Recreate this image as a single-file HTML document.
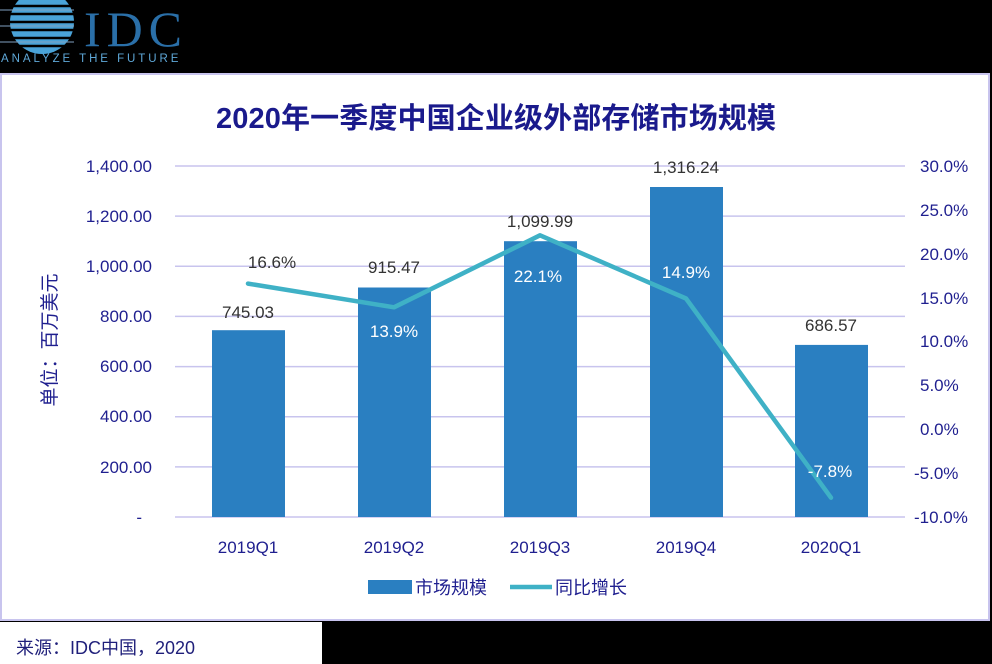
<!DOCTYPE html>
<html><head><meta charset="utf-8"><style>
html,body{margin:0;padding:0;background:#000;}
svg{display:block;font-family:"Liberation Sans","Noto Sans CJK SC",sans-serif;}
</style></head><body>
<svg width="992" height="664" viewBox="0 0 992 664" xmlns="http://www.w3.org/2000/svg">
<rect x="0" y="0" width="992" height="664" fill="#000"/>
<g>
<circle cx="42" cy="22" r="32" fill="#4aa3d8"/>
<g stroke="#000" stroke-width="2.5">
<line x1="0" y1="6" x2="80" y2="6"/><line x1="0" y1="14" x2="80" y2="14"/><line x1="0" y1="22" x2="80" y2="22"/><line x1="0" y1="30" x2="80" y2="30"/><line x1="0" y1="38" x2="80" y2="38"/><line x1="0" y1="46" x2="80" y2="46"/>
</g>
<g stroke="#7fa0c0" stroke-width="1"><line x1="0" y1="10" x2="74" y2="10"/><line x1="0" y1="26" x2="74" y2="26"/><line x1="0" y1="42" x2="74" y2="42"/></g>
<text x="84" y="46" font-family="Liberation Serif,serif" font-size="50" fill="#2a6fa8" textLength="98">IDC</text>
<text x="1" y="62" font-size="11.5" fill="#5fa8d8" letter-spacing="2.6" textLength="180">ANALYZE THE FUTURE</text>
</g>
<rect x="1" y="74" width="988" height="546" fill="#fff" stroke="#c8c4ee" stroke-width="2"/>
<rect x="0" y="622" width="322" height="42" fill="#fff"/>
<text x="16" y="654" font-size="18" fill="#1f1f7a">来源：IDC中国，2020</text>
<text x="496" y="128" font-size="29" font-weight="bold" fill="#1a1a8c" text-anchor="middle" textLength="560">2020年一季度中国企业级外部存储市场规模</text>
<g stroke="#c8c4ee" stroke-width="1.5">
<line x1="175" x2="905" y1="166" y2="166"/><line x1="175" x2="905" y1="216.1" y2="216.1"/><line x1="175" x2="905" y1="266.3" y2="266.3"/><line x1="175" x2="905" y1="316.4" y2="316.4"/><line x1="175" x2="905" y1="366.6" y2="366.6"/><line x1="175" x2="905" y1="416.7" y2="416.7"/><line x1="175" x2="905" y1="466.9" y2="466.9"/><line x1="175" x2="905" y1="517" y2="517"/>
</g>
<g font-size="17" fill="#1f1f8f" text-anchor="end">
<text x="152" y="172">1,400.00</text><text x="152" y="222">1,200.00</text><text x="152" y="272">1,000.00</text><text x="152" y="322">800.00</text><text x="152" y="372">600.00</text><text x="152" y="422">400.00</text><text x="152" y="473">200.00</text><text x="142" y="523">-</text>
</g>
<g font-size="17" fill="#1f1f8f">
<text x="920" y="172">30.0%</text><text x="920" y="216">25.0%</text><text x="920" y="260">20.0%</text><text x="920" y="304">15.0%</text><text x="920" y="347">10.0%</text><text x="920" y="391">5.0%</text><text x="920" y="435">0.0%</text><text x="914" y="479">-5.0%</text><text x="914" y="523">-10.0%</text>
</g>
<text transform="translate(56,340) rotate(-90)" font-size="19" fill="#1f1f8f" text-anchor="middle">单位：百万美元</text>
<g fill="#2a7fc1">
<rect x="212" y="330.2" width="73" height="186.8"/>
<rect x="358" y="287.5" width="73" height="229.5"/>
<rect x="504" y="241.2" width="73" height="275.8"/>
<rect x="650" y="187" width="73" height="330"/>
<rect x="795" y="344.9" width="73" height="172.1"/>
</g>
<polyline points="248,283.6 394,307.3 540,235.3 686,298.5 831,497.7" fill="none" stroke="#3fb1c6" stroke-width="4.5" stroke-linejoin="round" stroke-linecap="round"/>
<g font-size="17" fill="#333" text-anchor="middle">
<text x="248" y="318">745.03</text><text x="394" y="273">915.47</text><text x="540" y="227">1,099.99</text><text x="686" y="173">1,316.24</text><text x="831" y="331">686.57</text>
<text x="272" y="268">16.6%</text>
</g>
<g font-size="17" fill="#fff" text-anchor="middle">
<text x="394" y="337">13.9%</text><text x="538" y="282">22.1%</text><text x="686" y="278">14.9%</text><text x="830" y="477">-7.8%</text>
</g>
<g font-size="17" fill="#1f1f8f" text-anchor="middle">
<text x="248" y="553">2019Q1</text><text x="394" y="553">2019Q2</text><text x="540" y="553">2019Q3</text><text x="686" y="553">2019Q4</text><text x="831" y="553">2020Q1</text>
</g>
<rect x="368" y="580" width="44" height="14" fill="#2a7fc1"/>
<text x="415" y="594" font-size="18" fill="#1f1f8f">市场规模</text>
<line x1="510" y1="587" x2="552" y2="587" stroke="#3fb1c6" stroke-width="4.5"/>
<text x="555" y="594" font-size="18" fill="#1f1f8f">同比增长</text>
</svg>
</body></html>
